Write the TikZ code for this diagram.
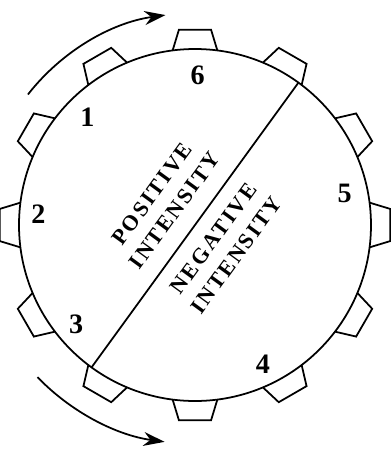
\documentclass[tikz,border=0pt]{standalone}
\usepackage{fontspec}
\setmainfont{Liberation Serif}
\newfontfamily\spacedfont[LetterSpace=10]{Liberation Serif}
\usetikzlibrary{arrows.meta}

\tikzset{
	num/.style={font=\fontsize{16}{16}\selectfont\bfseries},
	zone/.style={font=\spacedfont\fontsize{12.5}{16}\selectfont\bfseries, align=center, rotate=54}
}

\begin{document}
\begin{tikzpicture}[>={Stealth[length=12pt, width=8pt]}, line width=1pt]
		\useasboundingbox (-3.9, -4.7) rectangle (3.92, 4.5);
		
		% Wheel and dividing line
		\draw (0, 0) circle (3.52);
		\draw (54:3.52) -- (234:3.52);
		
		% Teeth
		\foreach \a in {0, 30, ..., 330}
			\draw (\a-7.3:3.52) -- (\a-4.7:3.92) -- (\a+4.7:3.92) -- (\a+7.3:3.52);
		
		% Positions
		\node[num] (six) at (89:3.0) {6};
		\node[num] (one) at (135:3.04) {1};
		\node[num] (two) at (176:3.14) {2};
		\node[num] (three) at (220:3.1) {3};
		\node[num] (four) at (296:3.1) {4};
		\node[num] (five) at (12:3.06) {5};
		
		% Halves
		\node[zone] (pos) at (144:0.78) {POSITIVE\\INTENSITY};
		\node[zone] (neg) at (-36:0.74) {NEGATIVE\\INTENSITY};
		
		% Rotation
		\draw[->] (142:4.24) arc[start angle=142, end angle=98, radius=4.24];
		\draw[->] (224:4.38) arc[start angle=224, end angle=262, radius=4.38];
	\end{tikzpicture}
\end{document}
